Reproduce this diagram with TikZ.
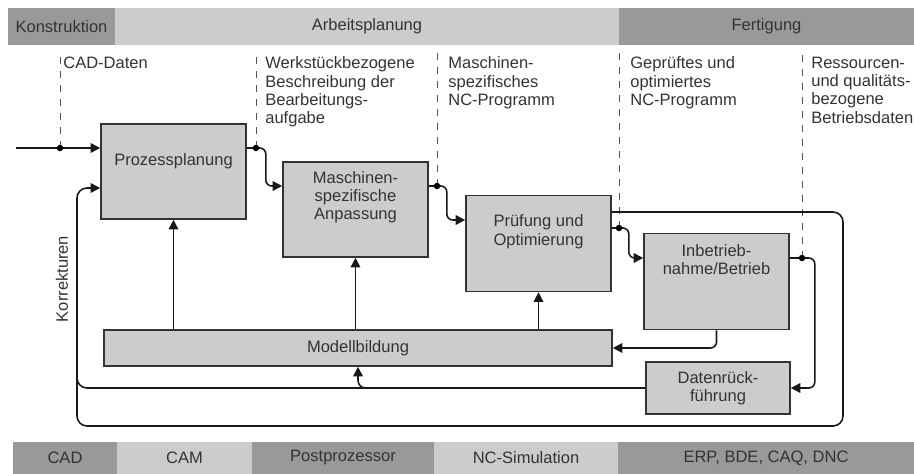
\documentclass[tikz,border=0pt]{standalone}
\usepackage{fontspec}
\setmainfont{Liberation Sans}
\definecolor{phasedark}{HTML}{999999}
\definecolor{phaselight}{HTML}{CCCCCC}
\definecolor{stepfill}{HTML}{CCCCCC}
\definecolor{darktext}{HTML}{333333}
\definecolor{tapgray}{HTML}{555555}
\usetikzlibrary{arrows.meta,positioning}
\tikzset{
    phasedarkbar/.style={
        fill=phasedark,
        inner sep=0pt,
        outer sep=0pt,
        minimum height=0.74cm,
        text=darktext,
        font=\fontsize{9.4}{10.4}\selectfont
    },
    phaselightbar/.style={
        phasedarkbar,
        fill=phaselight
    },
    tooldarkbar/.style={
        phasedarkbar,
        minimum height=0.64cm
    },
    toollightbar/.style={
        tooldarkbar,
        fill=phaselight
    },
    stepbox/.style={
        draw=darktext,
        fill=stepfill,
        line width=0.9pt,
        minimum width=2.9cm,
        minimum height=1.92cm,
        inner sep=0pt,
        align=center,
        text=darktext,
        font=\fontsize{9.4}{10.4}\selectfont
    },
    steptext/.style={
        inner sep=0pt,
        align=center,
        text=darktext,
        font=\fontsize{9.4}{10.4}\selectfont
    },
    datalabel/.style={
        anchor=north west,
        inner sep=0pt,
        align=left,
        text=darktext,
        font=\fontsize{9.4}{10.4}\selectfont
    },
    flowarrow/.style={
        -{Triangle[length=1.9mm,width=1.9mm]},
        draw=black!90,
        line width=0.9pt,
        rounded corners=1.2mm
    },
    flowline/.style={
        draw=black!90,
        line width=0.9pt,
        rounded corners=2mm
    },
    tapline/.style={
        draw=tapgray,
        dash pattern=on 1.4mm off 1.4mm,
        line width=0.5pt
    },
    tapdot/.style={
        circle,
        fill=black,
        inner sep=0pt,
        minimum size=1.3mm
    }
}

\begin{document}
\begin{tikzpicture}
    \useasboundingbox (0,0) rectangle (18.28,-9.48);

    % Phasen oben
    \node[phasedarkbar, anchor=north west, minimum width=2.14cm] (konstruktion) at (0.16,-0.16) {Konstruktion};
    \node[phaselightbar, right=0pt of konstruktion, minimum width=10.08cm] (arbeitsplanung) {Arbeitsplanung};
    \node[phasedarkbar, right=0pt of arbeitsplanung, minimum width=5.90cm] (fertigung) {Fertigung};

    % Werkzeuge unten
    \node[tooldarkbar, anchor=north west, minimum width=2.08cm] (cad) at (0.26,-8.84) {CAD};
    \node[toollightbar, right=0pt of cad, minimum width=2.70cm] (cam) {CAM};
    \node[tooldarkbar, right=0pt of cam, minimum width=3.64cm] (postprozessor) {Postprozessor};
    \node[toollightbar, right=0pt of postprozessor, minimum width=3.68cm] (ncsimulation) {NC-Simulation};
    \node[tooldarkbar, right=0pt of ncsimulation, minimum width=5.92cm] (erp) {ERP, BDE, CAQ, DNC};

    % Daten
    \node[datalabel] (cadlabel) at (1.26,-1.13) {CAD-Daten};
    \node[datalabel] (werklabel) at (5.30,-1.13)
        {Werkstückbezogene\\Beschreibung der\\Bearbeitungs-\\aufgabe};
    \node[datalabel] (nclabel) at (8.96,-1.13)
        {Maschinen-\\spezifisches\\NC-Programm};
    \node[datalabel] (geprueftlabel) at (12.60,-1.13)
        {Geprüftes und\\optimiertes\\NC-Programm};
    \node[datalabel] (ressourcenlabel) at (16.22,-1.13)
        {Ressourcen-\\und qualitäts-\\bezogene\\Betriebsdaten};

    % Schritte
    \node[stepbox, minimum height=1.90cm] (planung) at (3.47,-3.43) {};
    \node[steptext] (planungtext) at ([yshift=-7.6mm]planung.north) {Prozessplanung};
    \node[stepbox, minimum height=1.90cm] (anpassung) at (7.11,-4.19) {};
    \node[steptext] (anpassungtext) at ([yshift=-7.2mm]anpassung.north)
        {Maschinen-\\spezifische\\Anpassung};
    \node[stepbox] (pruefung) at (10.77,-4.87) {};
    \node[steptext] (pruefungtext) at ([yshift=-7.4mm]pruefung.north)
        {Prüfung und\\Optimierung};
    \node[stepbox] (betrieb) at (14.33,-5.63) {};
    \node[steptext] (betriebtext) at ([yshift=-5.4mm]betrieb.north)
        {Inbetrieb-\\nahme/Betrieb};
    \node[stepbox, minimum width=10.16cm, minimum height=0.72cm] (modell) at (7.16,-6.96) {Modellbildung};
    \node[stepbox, minimum width=2.88cm, minimum height=1.04cm] (rueck) at (14.36,-7.76)
        {Datenrück-\\führung};

    \node[rotate=90, text=darktext, font=\fontsize{9.4}{10.4}\selectfont] (korrekturen) at (1.24,-5.58) {Korrekturen};

    \coordinate (eingang) at (0.32,-2.96);
    \coordinate (tapcad) at (1.20,-2.96);
    \coordinate (tapwerk) at (5.12,-2.96);
    \coordinate (tapnc) at (8.74,-3.72);
    \coordinate (tapgeprueft) at (12.38,-4.56);
    \coordinate (tapbetrieb) at (16.04,-5.16);
    \coordinate (schleifeR) at (16.86,-8.52);
    \coordinate (schleifeL) at (1.54,-8.52);

    % gestrichelte Abgriffe
    \draw[tapline] (tapcad) -- ([yshift=1.2mm]tapcad |- cadlabel.north);
    \draw[tapline] (tapwerk) -- ([yshift=1.2mm]tapwerk |- werklabel.north);
    \draw[tapline] (tapnc) -- ([yshift=1.2mm]tapnc |- nclabel.north);
    \draw[tapline] (tapgeprueft) -- ([yshift=1.2mm]tapgeprueft |- geprueftlabel.north);
    \draw[tapline] (tapbetrieb) -- ([yshift=1.2mm]tapbetrieb |- ressourcenlabel.north);

    % Hauptfluss
    \draw[flowarrow] (eingang) -- (planung.west |- eingang);
    \draw[flowarrow] (planung.east |- tapwerk) -- ++(0.38,0) |- (anpassung.west |- tapnc);
    \draw[flowarrow] (anpassung.east |- tapnc) -- ++(0.36,0) |- ([yshift=4.7mm]pruefung.west);
    \draw[flowarrow] (pruefung.east |- tapgeprueft) -- ++(0.34,0) |- (betrieb.west |- tapbetrieb);
    \draw[flowarrow] (betrieb.east |- tapbetrieb) -- ++(0.50,0) |- (rueck.east);

    % Modellbildung
    \draw[flowarrow] (planung.south |- modell.north) -- (planung.south);
    \draw[flowarrow] (anpassung.south |- modell.north) -- (anpassung.south);
    \draw[flowarrow] (pruefung.south |- modell.north) -- (pruefung.south);
    \draw[flowarrow] (betrieb.south) |- (modell.east);

    % Korrekturschleifen
    \draw[flowarrow, rounded corners=2mm] ([yshift=6.3mm]pruefung.east) -| (schleifeR) -- (schleifeL)
        |- ([yshift=-3.3mm]planung.west);
    \draw[flowline] (rueck.west) -| (schleifeL |- modell.north);
    \draw[flowarrow, rounded corners=1.5mm] ([xshift=2.2mm]modell.south |- rueck.west) -| (modell.south);

    \node[tapdot] (dotcad) at (tapcad) {};
    \node[tapdot] (dotwerk) at (tapwerk) {};
    \node[tapdot] (dotnc) at (tapnc) {};
    \node[tapdot] (dotgeprueft) at (tapgeprueft) {};
    \node[tapdot] (dotbetrieb) at (tapbetrieb) {};
\end{tikzpicture}
\end{document}
